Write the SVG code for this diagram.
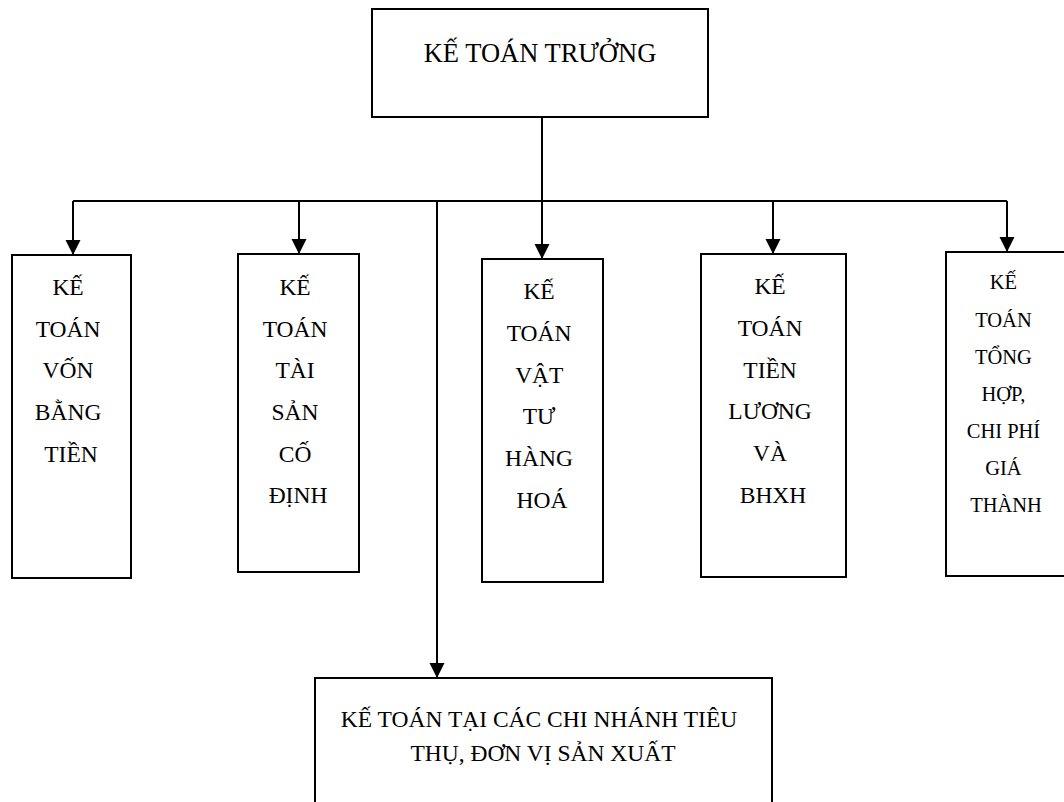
<svg xmlns="http://www.w3.org/2000/svg" width="1064" height="802" viewBox="0 0 1064 802">
  <style>
    .box { fill: #ffffff; stroke: #000000; stroke-width: 2; }
    .wire { fill: none; stroke: #000000; stroke-width: 2; }
    .lbl { font-family: "Liberation Serif", "Times New Roman", serif; font-size: 23.5px; fill: #000000; text-anchor: middle; }
    .lbl-top { font-size: 26.5px; }
    .lbl-sm { font-size: 20.5px; }
  </style>
  <defs>
    <marker id="arrow" markerUnits="userSpaceOnUse" markerWidth="16" markerHeight="16" refX="15" refY="7.5" orient="auto">
      <path d="M0,0 L15,7.5 L0,15 z" fill="#000000"/>
    </marker>
  </defs>
  <rect width="1064" height="802" fill="#ffffff"/>

  <!-- connectors -->
  <g id="connectors">
    <path class="wire" d="M542,117 V201"/>
    <path class="wire" d="M73,201 H1007"/>
    <path class="wire" d="M73,201 V255" marker-end="url(#arrow)"/>
    <path class="wire" d="M299,201 V254" marker-end="url(#arrow)"/>
    <path class="wire" d="M542,201 V259" marker-end="url(#arrow)"/>
    <path class="wire" d="M773,201 V254" marker-end="url(#arrow)"/>
    <path class="wire" d="M1007,201 V252" marker-end="url(#arrow)"/>
    <path class="wire" d="M437,201 V678" marker-end="url(#arrow)"/>
  </g>

  <!-- chief accountant -->
  <g id="ke-toan-truong">
    <rect class="box" x="372" y="9" width="336" height="108"/>
    <text class="lbl lbl-top" x="540" y="62">KẾ TOÁN TRƯỞNG</text>
  </g>

  <g id="ke-toan-von-bang-tien">
    <rect class="box" x="12" y="255" width="119" height="323"/>
    <text class="lbl" x="71">
      <tspan x="71" y="295">KẾ</tspan>
      <tspan x="71" y="337">TOÁN</tspan>
      <tspan x="71" y="378">VỐN</tspan>
      <tspan x="71" y="420">BẰNG</tspan>
      <tspan x="71" y="462">TIỀN</tspan>
    </text>
  </g>

  <g id="ke-toan-tai-san-co-dinh">
    <rect class="box" x="238" y="254" width="121" height="318"/>
    <text class="lbl" x="298">
      <tspan x="298" y="295">KẾ</tspan>
      <tspan x="298" y="337">TOÁN</tspan>
      <tspan x="298" y="378">TÀI</tspan>
      <tspan x="298" y="420">SẢN</tspan>
      <tspan x="298" y="462">CỐ</tspan>
      <tspan x="298" y="503">ĐỊNH</tspan>
    </text>
  </g>

  <g id="ke-toan-vat-tu-hang-hoa">
    <rect class="box" x="482" y="259" width="121" height="323"/>
    <text class="lbl" x="542">
      <tspan x="542" y="299">KẾ</tspan>
      <tspan x="542" y="341">TOÁN</tspan>
      <tspan x="542" y="383">VẬT</tspan>
      <tspan x="542" y="424">TƯ</tspan>
      <tspan x="542" y="466">HÀNG</tspan>
      <tspan x="542" y="508">HOÁ</tspan>
    </text>
  </g>

  <g id="ke-toan-tien-luong">
    <rect class="box" x="701" y="254" width="145" height="323"/>
    <text class="lbl" x="773">
      <tspan x="773" y="294">KẾ</tspan>
      <tspan x="773" y="336">TOÁN</tspan>
      <tspan x="773" y="378">TIỀN</tspan>
      <tspan x="773" y="419">LƯƠNG</tspan>
      <tspan x="773" y="461">VÀ</tspan>
      <tspan x="773" y="503">BHXH</tspan>
    </text>
  </g>

  <g id="ke-toan-tong-hop">
    <rect class="box" x="946" y="252" width="124" height="324"/>
    <text class="lbl lbl-sm" x="1006">
      <tspan x="1006" y="289">KẾ</tspan>
      <tspan x="1006" y="327">TOÁN</tspan>
      <tspan x="1006" y="364">TỔNG</tspan>
      <tspan x="1006" y="401">HỢP,</tspan>
      <tspan x="1006" y="438">CHI PHÍ</tspan>
      <tspan x="1006" y="475">GIÁ</tspan>
      <tspan x="1006" y="512">THÀNH</tspan>
    </text>
  </g>

  <g id="ke-toan-chi-nhanh">
    <rect class="box" x="315" y="678" width="457" height="140"/>
    <text class="lbl" x="543">
      <tspan x="542" y="727">KẾ TOÁN TẠI CÁC CHI NHÁNH TIÊU</tspan>
      <tspan x="543" y="761">THỤ, ĐƠN VỊ SẢN XUẤT</tspan>
    </text>
  </g>
</svg>
